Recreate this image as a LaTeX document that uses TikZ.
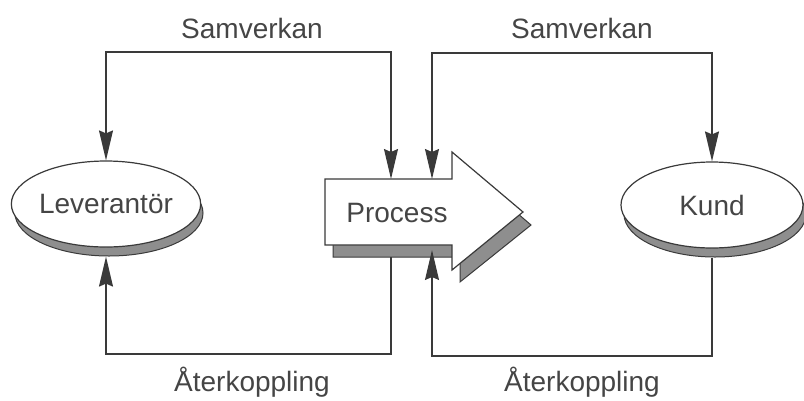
\documentclass[tikz,border=0pt]{standalone}
\usepackage{fontspec}
\setmainfont{Liberation Sans}
\usetikzlibrary{arrows.meta,shapes.geometric}
\definecolor{ink}{HTML}{3A3A3A}
\definecolor{txt}{HTML}{454545}
\definecolor{shade}{HTML}{8E8E8E}
\begin{document}
\begin{tikzpicture}[x=1pt,y=-1pt,
  conn/.style={draw=ink, line width=1.3pt},
  headend/.style={-{Stealth[length=30pt,width=14pt,inset=3pt]}},
  headboth/.style={{Stealth[length=30pt,width=14pt,inset=3pt]}-{Stealth[length=30pt,width=14pt,inset=3pt]}},
  lbl/.style={text=txt, font=\fontsize{28}{32}\selectfont, inner sep=0pt},
  disk/.style={ellipse, draw=ink, line width=1.2pt, fill=white, inner sep=0pt,
    text=txt, font=\fontsize{28}{32}\selectfont},
  shadowfill/.style={fill=shade, draw=ink, line width=1pt}
]
\useasboundingbox (0,0) rectangle (804,400);

% shadows of the ellipses
\path[shadowfill] (109,213) ellipse [x radius=94, y radius=43];
\path[shadowfill] (715,214) ellipse [x radius=91, y radius=43];

% ellipses
\node[disk, minimum width=188pt, minimum height=86pt] (lev) at (106,204) {Leverantör};
\node[disk, minimum width=182pt, minimum height=86pt] (kund) at (712,205) {Kund};

% process arrow: shadow then body
\path[shadowfill] (333,191) -- (460,191) -- (460,164) -- (531,225) -- (460,282) -- (460,257) -- (333,257) -- cycle;
\path[fill=white, draw=ink, line width=1.2pt] (325,179) -- (452,179) -- (452,152) -- (523,212) -- (452,270) -- (452,245) -- (325,245) -- cycle;
\node[lbl] (proc) at (397,213) {Process};

% connector points on the process arrow
\coordinate (pA) at (391,179);
\coordinate (pB) at (432,179);
\coordinate (pC) at (391,257);
\coordinate (pD) at (432,250);
\coordinate (t1) at (106,52);
\coordinate (t2) at (391,52);
\coordinate (t3) at (432,53);
\coordinate (t4) at (712,53);
\coordinate (b1) at (106,354);
\coordinate (b2) at (391,354);
\coordinate (b3) at (432,356);
\coordinate (b4) at (712,356);
\coordinate (levlow) at ([yshift=-9pt]lev.south);
\coordinate (kundlow) at ([yshift=-9pt]kund.south);

% labels
\node[lbl] (s1) at (252,28) {Samverkan};
\node[lbl] (s2) at (582,28) {Samverkan};
\node[lbl] (a1) at (252,382) {Återkoppling};
\node[lbl] (a2) at (582,382) {Återkoppling};

% connectors
\draw[conn, headboth] (lev.north) -- (t1) -- (t2) -- (pA);
\draw[conn, headboth] (pB) -- (t3) -- (t4) -- (kund.north);
\draw[conn, headend] (pC) -- (b2) -- (b1) -- (levlow);
\draw[conn, headend] (kundlow) -- (b4) -- (b3) -- (pD);
\end{tikzpicture}
\end{document}
